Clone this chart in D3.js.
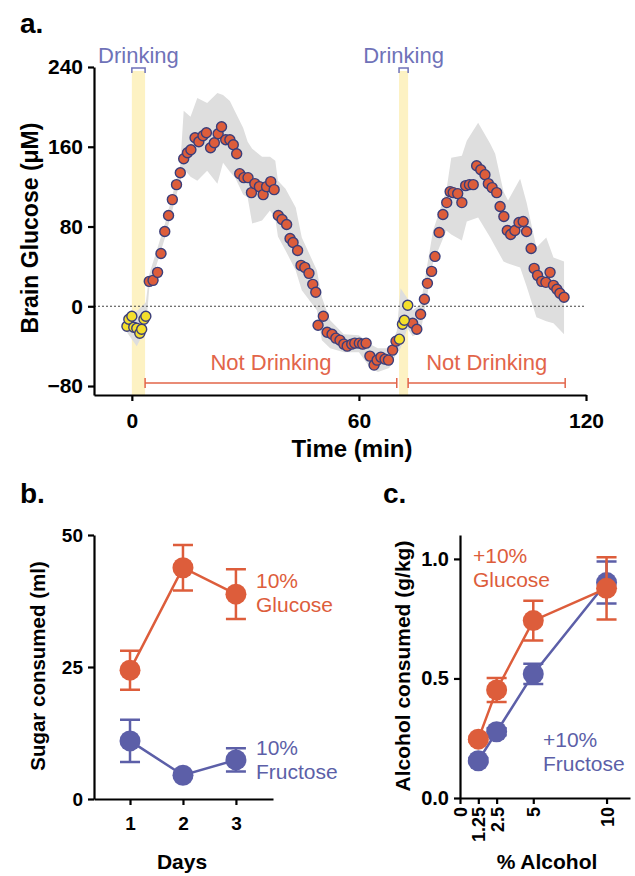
<!DOCTYPE html>
<html>
<head>
  <meta charset="utf-8">
  <title>Brain glucose and sugar / alcohol intake</title>
  <style>
  body{ margin:0; background:#fff; }
  svg{ display:block; font-family:"Liberation Sans", Arial, sans-serif; }
  .axis path, .axis line{ stroke:#000; stroke-width:2.2; }
  .axis text{ font-weight:bold; fill:#000; }
  </style>
</head>
<body>
  <svg width="635" height="876"></svg>
  <script src="https://d3js.org/d3.v7.min.js"></script>
  <script>
    // ---- panel a: brain glucose over time ----
    var drinkTime = [-1.3, -0.8, 0, 0.5, 1.3, 2.1, 2.6, 3.2, 3.7, 70.7, 71.5, 72.0, 72.9];
    var drinkGluc = [-20, -13, -10, -21, -22, -27, -23, -13, -10, -33, -18, -14, 1];

    var restTime = [4.6, 5.6, 6.8, 7.7, 8.7, 9.7, 10.7, 11.8, 12.8, 13.7, 14.7, 15.6, 16.7, 17.7, 18.8, 19.7,
      20.8, 21.8, 22.8, 23.7, 24.8, 25.9, 26.8, 27.7, 28.5, 29.6, 30.7, 31.6, 32.5, 33.7, 34.7, 35.6,
      36.7, 37.6, 38.7, 39.7, 40.9, 41.8, 42.6, 43.8, 44.7, 45.7, 46.8, 47.8, 48.6, 49.2, 50.6, 51.6,
      52.9, 53.9, 55.0, 56.0, 56.9, 58.1, 58.9, 60.1, 61.0, 61.9, 62.9, 64.0, 64.8, 65.8, 66.9, 67.8,
      68.9, 69.8,
      74.2, 75.3, 76.3, 77.3, 78.1, 79.2, 80.1, 81.2, 82.2, 83.2, 84.1, 84.9, 86.1, 87.2, 88.2, 89.2,
      90.2, 91.1, 92.2, 93.3, 94.2, 95.2, 96.4, 97.3, 98.3, 99.2, 100.1, 101.2, 102.3, 103.4, 104.3,
      105.5, 106.3, 107.2, 108.3, 109.4, 110.5, 111.4, 112.3, 113.1, 114.2];
    var restGluc = [25, 26, 34, 53, 75, 91, 107, 122, 134, 148, 154, 157, 169, 165, 171, 174,
      159, 164, 173, 180, 167, 167, 162, 153, 133, 129, 129, 114, 123, 120, 112, 120,
      125, 117, 91, 87, 82, 68, 64, 56, 41, 39, 33, 22, 14, -19, -10, -26,
      -28, -32, -34, -38, -40, -38, -37, -37, -38, -37, -50, -59, -54, -51, -53, -54,
      -44, -35,
      -17, -23, -8, 7, 23, 35, 50, 74, 92, 104, 115, 114, 113, 104, 121, 122,
      122, 141, 137, 132, 123, 119, 114, 100, 90, 76, 72, 76, 84, 85, 75,
      58, 38, 31, 25, 24, 34, 21, 17, 13, 9];

    // grey SEM band
    var bandTime = [-1.3, 1.3, 3.7, 4.6, 8.7, 12.8, 13.7, 15.5, 17.3, 19.9, 22.6, 24.1, 25.9, 27.3, 29.4, 30.6,
      31.8, 34.4, 36.5, 37.9, 38.6, 40.6, 43.3, 44.9, 48.9, 50.2, 52.4, 56, 60, 63, 65, 68, 70, 71,
      72.8, 74.2, 76.3, 79.6, 83.1, 84.4, 87.2, 88.5, 91.5, 94.7, 96.0, 98.2, 99.4, 102.6, 104.3,
      106.9, 109.5, 111.4, 114.2];
    var bandHigh = [-14, -5, 4, 32, 82, 142, 196, 190, 209, 204, 214, 212, 206, 195, 179, 165,
      158, 150, 150, 146, 126, 118, 99, 69, 36, 9, -14, -28, -29, -38, -42, -42, -25, 18,
      8, -4, 2, 76, 116, 149, 151, 166, 184, 163, 153, 115, 106, 128, 104,
      59, 69, 49, 45];
    var bandLow = [-26, -40, -22, 18, 68, 126, 138, 130, 126, 136, 123, 144, 135, 129, 112, 109,
      83, 86, 96, 88, 70, 56, 36, 16, -4, -34, -42, -46, -46, -62, -66, -62, -47, -42,
      -22, -30, -26, 44, 76, 72, 66, 85, 89, 69, 60, 45, 43, 39, 20,
      -11, -15, -17, -28];

    var drinkPeriods = [[0, 3.5], [70.6, 73]];
    var restPeriods = [[3.5, 70], [73, 114.5]];
    var glucTicks = [-80, 0, 80, 160, 240];
    var timeTicks = [0, 60, 120];

    // ---- panel b: sugar consumed ----
    var days = [1, 2, 3];
    var glucoseMl = [24.4, 43.8, 38.8];
    var glucoseMlSem = [3.7, 4.3, 4.7];
    var fructoseMl = [11.0, 4.5, 7.4];
    var fructoseMlSem = [4.0, 0.4, 2.2];
    var sugarTicks = [0, 25, 50];

    // ---- panel c: alcohol consumed ----
    var alcoholPct = [1.25, 2.5, 5, 10];
    var alcGlucose = [0.246, 0.452, 0.742, 0.877];
    var alcGlucoseSem = [0.01, 0.05, 0.083, 0.13];
    var alcFructose = [0.156, 0.277, 0.519, 0.901];
    var alcFructoseSem = [0.01, 0.015, 0.042, 0.088];
    var alcYTicks = [0, 0.5, 1.0];
    var alcXTicks = [0, 1.25, 2.5, 5, 10];

    var orange = "#dd5d3b", blue = "#5c5fa8", navy = "#3b3e7a", yellow = "#f4df2c";
    var svg = d3.select("svg");

    // ================= panel a =================
    var xa = d3.scaleLinear().domain([-10, 120]).range([94, 586]);
    var ya = d3.scaleLinear().domain([-89, 240]).range([395, 67]);
    var ga = svg.append("g");

    drinkPeriods.forEach(function (p) {
      ga.append("rect")
        .attr("x", xa(p[0])).attr("width", xa(p[1]) - xa(p[0]))
        .attr("y", 71).attr("height", 395 - 71)
        .attr("fill", "#fdf2c3");
      // small bracket on top
      ga.append("path")
        .attr("d", "M" + xa(p[0]) + ",73V68H" + xa(p[1]) + "V73")
        .attr("fill", "none").attr("stroke", "#6f72b8").attr("stroke-width", 1.5);
      ga.append("text")
        .attr("x", (xa(p[0]) + xa(p[1])) / 2).attr("y", 63)
        .attr("text-anchor", "middle")
        .style("font-size", "22px").attr("fill", "#6f72b8")
        .text("Drinking");
    });

    var band = d3.area()
      .x(function (d, i) { return xa(bandTime[i]); })
      .y0(function (d, i) { return ya(bandLow[i]); })
      .y1(function (d, i) { return ya(bandHigh[i]); });
    ga.append("path").attr("d", band(bandTime)).attr("fill", "#dedede");

    ga.append("line")
      .attr("x1", xa(-10)).attr("x2", xa(120))
      .attr("y1", ya(0)).attr("y2", ya(0))
      .attr("stroke", "#444").attr("stroke-width", 1.2).attr("stroke-dasharray", "2,2");

    restPeriods.forEach(function (p) {
      var y = 383;
      ga.append("path")
        .attr("d", "M" + xa(p[0]) + "," + (y - 5) + "V" + (y + 5) + "M" + xa(p[0]) + "," + y +
          "H" + xa(p[1]) + "M" + xa(p[1]) + "," + (y - 5) + "V" + (y + 5))
        .attr("fill", "none").attr("stroke", "#e2654a").attr("stroke-width", 1.5);
      ga.append("text")
        .attr("x", (xa(p[0]) + xa(p[1])) / 2).attr("y", 370)
        .attr("text-anchor", "middle")
        .style("font-size", "22px").attr("fill", "#e2654a")
        .text("Not Drinking");
    });

    ga.selectAll(".rest").data(restTime).enter().append("circle")
      .attr("cx", function (d) { return xa(d); })
      .attr("cy", function (d, i) { return ya(restGluc[i]); })
      .attr("r", 5).attr("fill", orange).attr("stroke", navy).attr("stroke-width", 1.4);
    ga.selectAll(".drink").data(drinkTime).enter().append("circle")
      .attr("cx", function (d) { return xa(d); })
      .attr("cy", function (d, i) { return ya(drinkGluc[i]); })
      .attr("r", 5).attr("fill", yellow).attr("stroke", navy).attr("stroke-width", 1.4);

    ga.append("g").attr("class", "axis").attr("transform", "translate(94,0)")
      .call(d3.axisLeft(ya).tickValues(glucTicks).tickSize(6).tickSizeOuter(0).tickPadding(5))
      .selectAll("text").style("font-size", "21px");
    ga.append("g").attr("class", "axis").attr("transform", "translate(0,395)")
      .call(d3.axisBottom(xa).tickValues(timeTicks).tickSize(6).tickSizeOuter(0).tickPadding(12))
      .selectAll("text").style("font-size", "21px");
    ga.selectAll(".axis").attr("font-family", null);

    svg.append("text").attr("x", 20).attr("y", 33)
      .style("font-size", "28px").style("font-weight", "bold").text("a.");
    svg.append("text")
      .attr("transform", "translate(38,228) rotate(-90)")
      .attr("text-anchor", "middle")
      .style("font-size", "23px").style("font-weight", "bold")
      .text("Brain Glucose (\u03bcM)");
    svg.append("text").attr("x", 352).attr("y", 457)
      .attr("text-anchor", "middle")
      .style("font-size", "24px").style("font-weight", "bold")
      .text("Time (min)");

    // ================= panel b =================
    var xb = d3.scaleLinear().domain([0.32, 3.70]).range([94, 273]);
    var yb = d3.scaleLinear().domain([0, 50]).range([799, 535]);
    var gb = svg.append("g");

    function drawSeries(g, xs, ys, vals, sems, xvals, color, r, cap) {
      var line = d3.line()
        .x(function (d, i) { return xs(xvals[i]); })
        .y(function (d) { return ys(d); });
      g.append("path").attr("d", line(vals))
        .attr("fill", "none").attr("stroke", color).attr("stroke-width", 2.5);
      vals.forEach(function (v, i) {
        var x = xs(xvals[i]), y0 = ys(v - sems[i]), y1 = ys(v + sems[i]);
        g.append("path")
          .attr("d", "M" + (x - cap) + "," + y1 + "H" + (x + cap) + "M" + x + "," + y1 +
            "V" + y0 + "M" + (x - cap) + "," + y0 + "H" + (x + cap))
          .attr("fill", "none").attr("stroke", color).attr("stroke-width", 2.5);
      });
      g.selectAll(null).data(vals).enter().append("circle")
        .attr("cx", function (d, i) { return xs(xvals[i]); })
        .attr("cy", function (d) { return ys(d); })
        .attr("r", r).attr("fill", color);
    }

    drawSeries(gb, xb, yb, glucoseMl, glucoseMlSem, days, orange, 10.5, 10);
    drawSeries(gb, xb, yb, fructoseMl, fructoseMlSem, days, blue, 10.5, 10);

    gb.append("g").attr("class", "axis").attr("transform", "translate(94,0)")
      .call(d3.axisLeft(yb).tickValues(sugarTicks).tickSize(6).tickSizeOuter(0).tickPadding(5))
      .selectAll("text").style("font-size", "19px");
    gb.append("g").attr("class", "axis").attr("transform", "translate(0,799)")
      .call(d3.axisBottom(xb).tickValues(days).tickFormat(d3.format("d")).tickSize(6).tickSizeOuter(0).tickPadding(12))
      .selectAll("text").style("font-size", "19px");
    gb.selectAll(".axis").attr("font-family", null);

    [["10%", 588, orange], ["Glucose", 612, orange], ["10%", 755, blue], ["Fructose", 779, blue]]
      .forEach(function (t) {
        gb.append("text").attr("x", 256).attr("y", t[1])
          .style("font-size", "21px").attr("fill", t[2]).text(t[0]);
      });

    svg.append("text").attr("x", 20).attr("y", 503)
      .style("font-size", "28px").style("font-weight", "bold").text("b.");
    svg.append("text")
      .attr("transform", "translate(45,666) rotate(-90)")
      .attr("text-anchor", "middle")
      .style("font-size", "20.5px").style("font-weight", "bold")
      .text("Sugar consumed (ml)");
    svg.append("text").attr("x", 182).attr("y", 869)
      .attr("text-anchor", "middle")
      .style("font-size", "21px").style("font-weight", "bold")
      .text("Days");

    // ================= panel c =================
    var xc = d3.scaleLinear().domain([0, 11.6]).range([460, 630]);
    var yc = d3.scaleLinear().domain([0, 1.1]).range([798, 535]);
    var gc = svg.append("g");

    drawSeries(gc, xc, yc, alcFructose, alcFructoseSem, alcoholPct, blue, 10.5, 10);
    drawSeries(gc, xc, yc, alcGlucose, alcGlucoseSem, alcoholPct, orange, 10.5, 10);

    gc.append("g").attr("class", "axis").attr("transform", "translate(460,0)")
      .call(d3.axisLeft(yc).tickValues(alcYTicks).tickFormat(d3.format(".1f")).tickSize(6).tickSizeOuter(0).tickPadding(5))
      .selectAll("text").style("font-size", "20px");
    var xAxisC = gc.append("g").attr("class", "axis").attr("transform", "translate(0,798)")
      .call(d3.axisBottom(xc).tickValues(alcXTicks).tickFormat(function (d) { return String(d); })
        .tickSize(6).tickSizeOuter(0));
    xAxisC.selectAll("text")
      .style("font-size", "18px")
      .attr("text-anchor", "end")
      .attr("transform", "rotate(-90)")
      .attr("x", -9).attr("y", 0).attr("dy", "0.36em");
    gc.selectAll(".axis").attr("font-family", null);

    [["+10%", 473, 563, orange], ["Glucose", 473, 587, orange], ["+10%", 543, 747, blue], ["Fructose", 543, 771, blue]]
      .forEach(function (t) {
        gc.append("text").attr("x", t[1]).attr("y", t[2])
          .style("font-size", "21px").attr("fill", t[3]).text(t[0]);
      });

    svg.append("text").attr("x", 383).attr("y", 503)
      .style("font-size", "28px").style("font-weight", "bold").text("c.");
    svg.append("text")
      .attr("transform", "translate(410,666) rotate(-90)")
      .attr("text-anchor", "middle")
      .style("font-size", "21px").style("font-weight", "bold")
      .text("Alcohol consumed (g/kg)");
    svg.append("text").attr("x", 547).attr("y", 869)
      .attr("text-anchor", "middle")
      .style("font-size", "21px").style("font-weight", "bold")
      .text("% Alcohol");
  </script>
</body>
</html>
